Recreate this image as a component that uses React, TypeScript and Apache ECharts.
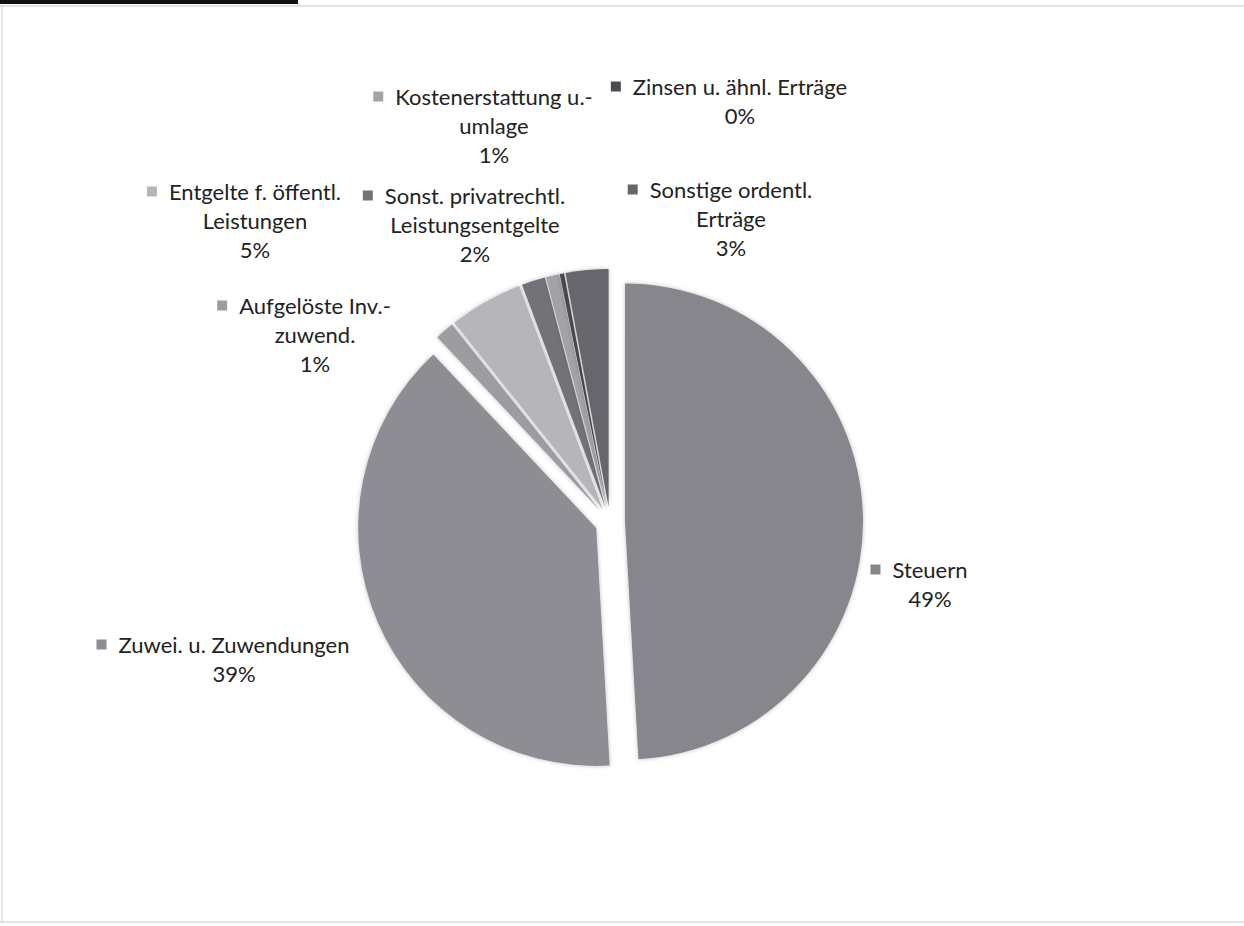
import React, { useEffect, useRef } from "react";
import * as echarts from "echarts";

const categories = [
  "Steuern",
  "Zuwei. u. Zuwendungen",
  "Aufgelöste Inv.-\nzuwend.",
  "Entgelte f. öffentl.\nLeistungen",
  "Sonst. privatrechtl.\nLeistungsentgelte",
  "Kostenerstattung u.-\numlage",
  "Zinsen u. ähnl. Erträge",
  "Sonstige ordentl.\nErträge",
];
const values = [49.1, 38.9, 1.3, 5.0, 1.6, 0.9, 0.3, 2.9];
const sliceColors = ["#86868c", "#8d8d93", "#9c9ca2", "#b6b6ba", "#727278", "#a2a2a8", "#4a4a50", "#66666c"];
// label anchor: [center x of text lines, top y of label block]
const labelAnchors = [
  [930, 555],
  [234, 630],
  [315, 291],
  [255, 177],
  [475, 181],
  [494, 82],
  [740, 72],
  [731, 175],
];

const FONT = "Lato";
const CENTER = [610, 522];
const RADIUS = 238;

export default function App() {
  const ref = useRef<HTMLDivElement>(null);
  useEffect(() => {
    if (!ref.current) return;
    const chart = echarts.init(ref.current, null, { renderer: "svg" });
    const rich: any = {
      t: { fontFamily: FONT, fontSize: 22, color: "#222", lineHeight: 29 },
      g: { width: 12, height: 10, lineHeight: 29 },
      s: { width: 22, height: 10, lineHeight: 29 },
    };
    sliceColors.forEach((c, i) => {
      rich["m" + i] = { width: 10, height: 10, backgroundColor: c, lineHeight: 29, verticalAlign: "middle" };
    });
    chart.setOption({
      animation: false,
      backgroundColor: "#ffffff",
      graphic: [
        { type: "rect", shape: { x: 0, y: 0, width: 298, height: 4 }, style: { fill: "#111" } },
        { type: "line", shape: { x1: 0, y1: 6, x2: 1244, y2: 6 }, style: { stroke: "#c4c4c4", lineWidth: 1 } },
        { type: "line", shape: { x1: 2, y1: 6, x2: 2, y2: 922 }, style: { stroke: "#d0d0d0", lineWidth: 1 } },
        { type: "line", shape: { x1: 0, y1: 922, x2: 1244, y2: 922 }, style: { stroke: "#c4c4c4", lineWidth: 1 } },
      ],
      series: [
        {
          type: "pie",
          center: CENTER,
          radius: RADIUS,
          startAngle: 90,
          clockwise: true,
          selectedMode: "multiple",
          selectedOffset: 15,
          avoidLabelOverlap: false,
          itemStyle: { borderWidth: 0, shadowBlur: 4, shadowColor: "rgba(0,0,0,0.25)" },
          emphasis: { disabled: true },
          labelLine: { show: false },
          label: { show: false },
          data: categories.map((name, i) => ({
            name,
            value: values[i],
            selected: true,
            itemStyle: { color: sliceColors[i] },
          })),
        },
        {
          type: "pie",
          center: CENTER,
          radius: RADIUS,
          startAngle: 90,
          clockwise: true,
          silent: true,
          percentPrecision: 0,
          avoidLabelOverlap: false,
          itemStyle: { color: "rgba(0,0,0,0)", borderWidth: 0 },
          emphasis: { disabled: true },
          labelLine: { show: false },
          label: {
            show: true,
            position: "outside",
            overflow: "none",
            align: "center",
            rich,
            formatter: (p: any) => {
              const lines = String(p.name).split("\n");
              let s = `{m${p.dataIndex}|}{g|}{t|${lines[0]}}{s|}`;
              for (let i = 1; i < lines.length; i++) s += `\n{t|${lines[i]}}`;
              s += `\n{t|${p.percent}%}`;
              return s;
            },
          },
          labelLayout: (params: any) => {
            const a = labelAnchors[params.dataIndex];
            return { x: a[0], y: a[1], align: "center", verticalAlign: "top" };
          },
          data: categories.map((name, i) => ({ name, value: values[i] })),
        },
      ],
    });
    return () => chart.dispose();
  }, []);
  return (
    <div
      ref={ref}
      style={{ position: "absolute", left: 0, top: 0, width: 1244, height: 926 }}
    />
  );
}
